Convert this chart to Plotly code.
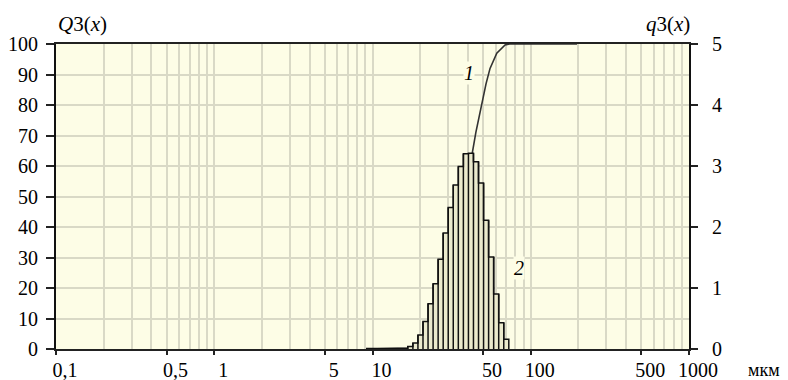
import plotly.graph_objects as go

# ---- data ----
# histogram (curve 2): bin edges in µm and q3 density values (right axis)
bin_edges = [9.2, 16.7, 18.0, 19.37, 20.85, 22.44, 24.15, 25.99, 27.97, 30.10, 32.39,
             34.86, 37.52, 40.38, 43.45, 46.76, 50.33, 54.16, 58.29, 62.73, 67.51, 72.66]
q3_values = [0.01, 0.04, 0.10, 0.23, 0.45, 0.74, 1.07, 1.47, 1.90, 2.32, 2.69,
             2.99, 3.20, 3.21, 3.07, 2.72, 2.11, 1.51, 0.90, 0.43, 0.16]

# cumulative curve (curve 1): size in µm and Q3 in %
size_um = [9.2, 16.7, 19.95, 23.1, 26.7, 29.4, 32.3, 34.7, 37.3, 40.1, 42.3,
           45.0, 47.8, 52.2, 55.3, 61.0, 68.8, 73.5, 196]
Q3_values = [0, 0.3, 1, 4, 11, 18, 25, 34, 45, 56, 63,
             71, 78, 87, 92, 97, 99.7, 100, 100]

x_tickvals = [0.1, 0.5, 1, 5, 10, 50, 100, 500, 1000]
x_ticktext = ["0,1", "0,5", "1", "5", "10", "50", "100", "500", "1000"]
decades = [0.1, 1, 10, 100]
x_gridvals = [d * k for d in decades for k in range(1, 10)] + [1000]

FONT = "Liberation Serif, Times New Roman, serif"
GRID = "#d9d9c6"
BG = "#fdfde6"

fig = go.Figure()

# histogram outline (step) with fill
hx = [bin_edges[0]] + bin_edges + [bin_edges[-1]]
hy = [0] + q3_values + [q3_values[-1], 0]
fig.add_trace(go.Scatter(x=hx, y=hy, yaxis="y2", mode="lines", line_shape="hv",
                         fill="tozeroy", fillcolor="#ebeacd",
                         line=dict(color="#111111", width=1.5), hoverinfo="skip",
                         showlegend=False))
# vertical bar edges
vx, vy = [], []
for i in range(1, len(bin_edges) - 1):
    h = max(q3_values[i - 1], q3_values[i])
    vx += [bin_edges[i], bin_edges[i], None]
    vy += [0, h, None]
fig.add_trace(go.Scatter(x=vx, y=vy, yaxis="y2", mode="lines",
                         line=dict(color="#111111", width=1.5), hoverinfo="skip",
                         showlegend=False))

# cumulative curve
fig.add_trace(go.Scatter(x=size_um, y=Q3_values, mode="lines",
                         line=dict(color="#333333", width=1.6), showlegend=False))

fig.update_layout(
    template="none",
    width=780, height=372,
    margin=dict(l=48, r=99, t=36, b=31, pad=0),
    paper_bgcolor="white", plot_bgcolor=BG,
    font=dict(family=FONT, size=20, color="black"),
    showlegend=False,
    xaxis=dict(type="log", range=[-1, 3], tickmode="array",
               tickvals=x_tickvals, ticktext=x_ticktext, automargin=False,
               showgrid=True, gridcolor=GRID, gridwidth=1.5,
               minor=dict(tickmode="array", tickvals=x_gridvals, showgrid=True,
                          gridcolor=GRID, gridwidth=1.5, ticks=""),
               ticks="outside", ticklen=4, tickwidth=2, tickcolor="#222",
               showline=True, linecolor="#222", linewidth=2, mirror=True,
               zeroline=False, ticklabelstandoff=-2, ticklabelshift=9),
    yaxis=dict(range=[0, 100], dtick=10, showgrid=True, gridcolor=GRID, gridwidth=1.5,
               ticks="outside", ticklen=8, tickwidth=2, tickcolor="#222", automargin=False,
               showline=True, linecolor="#111", linewidth=2, zeroline=False,
               ticklabelstandoff=4),
    yaxis2=dict(range=[0, 5], dtick=1, overlaying="y", side="right", showgrid=False,
                ticks="outside", ticklen=7, tickwidth=2, tickcolor="#222", automargin=False,
                showline=True, linecolor="#111", linewidth=2, zeroline=False,
                ticklabelstandoff=10),
    annotations=[
        dict(text="<i>Q</i>3(<i>x</i>)", xref="paper", yref="paper", x=0, y=1,
             xanchor="left", yanchor="bottom", yshift=6, showarrow=False,
             font=dict(size=21)),
        dict(text="<i>q</i>3(<i>x</i>)", xref="paper", yref="paper", x=1.005, y=1,
             xanchor="right", yanchor="bottom", yshift=6, showarrow=False,
             font=dict(size=21)),
        dict(text="мкм", xref="paper", yref="paper", x=1.118, y=-0.07,
             xanchor="center", yanchor="middle", showarrow=False, font=dict(size=18)),
        dict(text="<i>1</i>", xref="paper", yref="paper", x=0.6524, y=0.905,
             xanchor="center", yanchor="middle",
             showarrow=False, font=dict(size=20), bgcolor=BG, borderpad=0),
        dict(text="<i>2</i>", xref="paper", yref="paper", x=0.7314, y=0.2656,
             xanchor="center", yanchor="middle",
             showarrow=False, font=dict(size=20), bgcolor=BG, borderpad=0),
    ],
)

fig.write_html("out.html")
